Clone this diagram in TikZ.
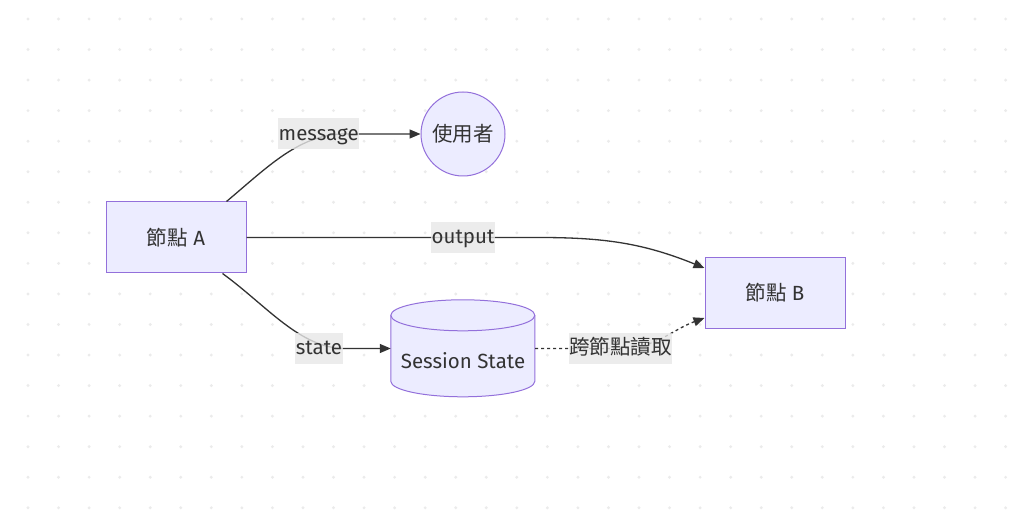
\documentclass[tikz,border=0pt]{standalone}
\usepackage{fontspec}
\setmainfont{Fira Sans}
\newfontfamily\cjk{Noto Sans CJK TC}
\usetikzlibrary{arrows.meta}
\definecolor{nodefill}{HTML}{ECECFF}
\definecolor{nodeline}{HTML}{9370DB}
\definecolor{edgeline}{HTML}{333333}
\definecolor{lblfill}{HTML}{E8E8E8}
\definecolor{dotgray}{HTML}{EBEBEB}
\tikzset{
  proc/.style={draw=nodeline, fill=nodefill, line width=1pt, minimum width=140pt, minimum height=71pt, text=edgeline},
  actor/.style={circle, draw=nodeline, fill=nodefill, line width=1pt, minimum size=84pt, inner sep=0pt, text=edgeline},
  lbl/.style={fill=lblfill, fill opacity=0.8, text opacity=1, text=edgeline, inner xsep=0.5pt, inner ysep=0pt, text height=22pt, text depth=9pt},
  flow/.style={draw=edgeline, line width=1.3pt, -{Triangle[length=11pt,width=9pt]}},
  readflow/.style={flow, dash pattern=on 3pt off 3pt},
}

\begin{document}
\begin{tikzpicture}[x=1pt, y=1pt, font=\fontsize{20.5}{24}\selectfont]
	\useasboundingbox (0,0) rectangle (1024,519);
	\fill[white] (0,0) rectangle (1024,519);
	%% dot grid
	\foreach \i in {0,...,32}
		\foreach \j in {0,...,16}
			\fill[dotgray] (28+30.55*\i, 500-30.55*\j) circle (1.6);

	\node[proc] (nodeA) at (176,281.5) {{\cjk 節點} A};
	\node[proc] (nodeB) at (775,226) {{\cjk 節點} B};
	\node[actor] (user) at (463,385) {\cjk 使用者};
	%% session state cylinder
	\node[minimum width=144pt, minimum height=97pt, inner sep=0pt] (sess) at (463,170.5) {};
	\filldraw[draw=nodeline, fill=nodefill, line width=1pt] (sess.north west) ++(0,-15.5) -- ++(0,-66) arc (180:360:72 and 15.5) -- ++(0,66) arc (0:180:72 and 15.5) -- cycle;
	\draw[nodeline, line width=1pt] (sess.north west) ++(0,-15.5) arc (180:360:72 and 15.5);
	\node[text=edgeline] (sesstext) at (463,158) {Session State};

	\coordinate (msgpos) at (318.7,385);
	\coordinate (outpos) at (463,281.5);
	\coordinate (statepos) at (319,170.5);
	\coordinate (crosspos) at (620.5,170.5);

	\draw[flow] ([xshift=-20pt]nodeA.north east) .. controls +(40:55) and +(-45,0) .. ([xshift=26pt]msgpos) -- (user);
	\draw[flow] (nodeA.east) -- ([xshift=76pt]outpos) to[out=0,in=158] ([yshift=25pt]nodeB.west);
	\draw[flow] ([xshift=-24pt]nodeA.south east) .. controls +(-36:55) and +(-45,0) .. ([xshift=26pt]statepos) -- (sess.west);
	\draw[readflow] (sess.east) -- (crosspos) to[out=0,in=200] ([yshift=-25pt]nodeB.west);

	\node[lbl] (msg) at (msgpos) {message};
	\node[lbl] (out) at (outpos) {output};
	\node[lbl] (state) at (statepos) {state};
	\node[lbl] (cross) at (crosspos) {\cjk 跨節點讀取};
\end{tikzpicture}
\end{document}
